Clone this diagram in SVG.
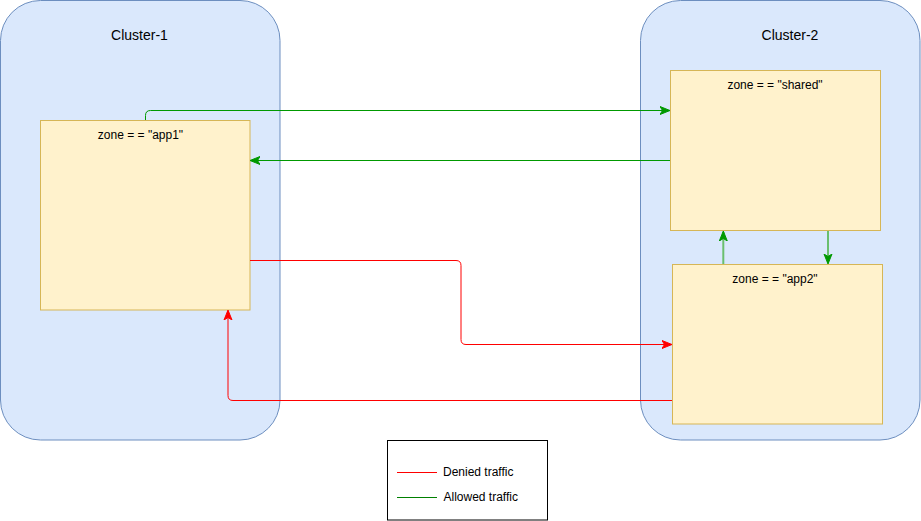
<svg xmlns="http://www.w3.org/2000/svg" width="921" height="521" viewBox="0 0 921 521">
<style>
.cluster{fill:#dae8fc;stroke:#6c8ebf;stroke-width:1}
.zone{fill:#fff2cc;stroke:#d6b656;stroke-width:1}
.t{font-family:"Liberation Sans",Arial,sans-serif;fill:#000;text-anchor:middle}
.lbl{font-size:12px}
.cl{font-size:14px}
.g{fill:none;stroke:#009900;stroke-width:1}
.g2{fill:none;stroke:#6abf6e;stroke-width:2}
.r{fill:none;stroke:#ff0000;stroke-width:1}
</style>
<defs>
<marker id="ag" viewBox="0 0 10 10" refX="9" refY="5" markerWidth="10" markerHeight="10" markerUnits="userSpaceOnUse" orient="auto">
<path d="M0,1 L10,5 L0,9 L2.5,5 Z" fill="#009900" stroke="#009900"/>
</marker>
<marker id="ag2" viewBox="0 0 10 10" refX="9" refY="5" markerWidth="10" markerHeight="10" markerUnits="userSpaceOnUse" orient="auto">
<path d="M0,1 L10,5 L0,9 L2.5,5 Z" fill="#009900" stroke="#009900"/>
</marker>
<marker id="ar" viewBox="0 0 10 10" refX="9" refY="5" markerWidth="10" markerHeight="10" markerUnits="userSpaceOnUse" orient="auto">
<path d="M0,1 L10,5 L0,9 L2.5,5 Z" fill="#ff0000" stroke="#ff0000"/>
</marker>
</defs>
<rect width="921" height="521" fill="#ffffff"/>
<g id="cluster-1">
<rect class="cluster" x="0.5" y="0.5" width="279.5" height="439.5" rx="40" ry="40"/>
<text class="t cl" x="139.5" y="40">Cluster-1</text>
</g>
<g id="cluster-2">
<rect class="cluster" x="640.5" y="0.5" width="279.5" height="439.5" rx="40" ry="40"/>
<text class="t cl" x="790" y="40">Cluster-2</text>
</g>
<g id="zone-app1">
<rect class="zone" x="40.5" y="120.5" width="209.5" height="189.5"/>
<text class="t lbl" x="140.5" y="139">zone = = "app1"</text>
</g>
<g id="zone-shared">
<rect class="zone" x="670.5" y="70.5" width="210" height="160"/>
<text class="t lbl" x="775" y="89">zone = = "shared"</text>
</g>
<g id="zone-app2">
<rect class="zone" x="672.5" y="264.5" width="210" height="159.5"/>
<text class="t lbl" x="775" y="283">zone = = "app2"</text>
</g>
<g id="connectors">
<path class="g" d="M145.5,120 L145.5,115.5 Q145.5,110.5 150.5,110.5 L669,110.5" marker-end="url(#ag)"/>
<path class="g" d="M670,160.5 L251,160.5" marker-end="url(#ag)"/>
<path class="g2" d="M723.3,264 L723.3,232" marker-end="url(#ag2)"/>
<path class="g2" d="M828,231 L828,263" marker-end="url(#ag2)"/>
<path class="r" d="M250,260.5 L456,260.5 Q461,260.5 461,265.5 L461,339.5 Q461,344.5 466,344.5 L671,344.5" marker-end="url(#ar)"/>
<path class="r" d="M672,400.5 L233,400.5 Q228,400.5 228,395.5 L228,311" marker-end="url(#ar)"/>
</g>
<g id="legend">
<rect x="387.5" y="440.5" width="160" height="79.5" fill="#ffffff" stroke="#000000" stroke-width="1"/>
<line x1="397" y1="472.5" x2="437" y2="472.5" stroke="#ff0000" stroke-width="1"/>
<text class="t lbl" x="443" y="476" style="text-anchor:start">Denied traffic</text>
<line x1="397" y1="497.5" x2="437" y2="497.5" stroke="#008000" stroke-width="1"/>
<text class="t lbl" x="443.5" y="501" style="text-anchor:start">Allowed traffic</text>
</g>
</svg>
